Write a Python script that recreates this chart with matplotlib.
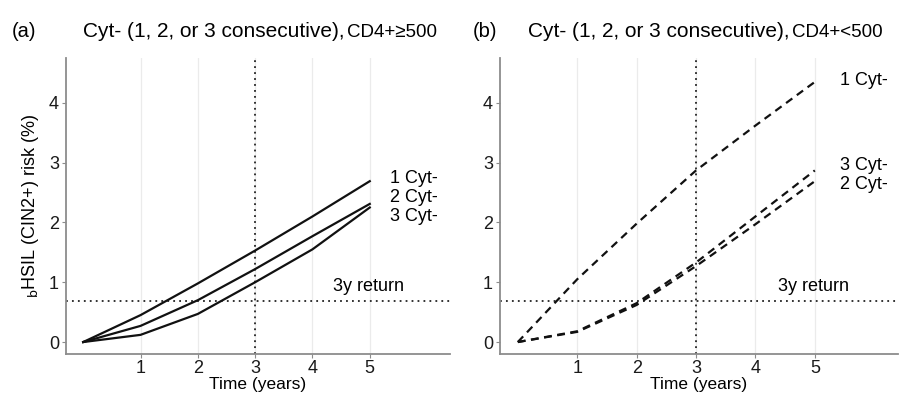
import matplotlib
matplotlib.use("Agg")
import matplotlib.pyplot as plt

plt.rcParams['font.family'] = ['Liberation Sans', 'DejaVu Sans']

years = [0, 1, 2, 3, 4, 5]
# Panel (a): CD4+ >= 500
a_1cyt = [0, 0.45, 0.98, 1.53, 2.10, 2.69]
a_2cyt = [0, 0.27, 0.70, 1.22, 1.77, 2.31]
a_3cyt = [0, 0.12, 0.47, 1.00, 1.55, 2.25]
# Panel (b): CD4+ < 500
b_1cyt = [0, 1.05, 1.98, 2.87, 3.62, 4.35]
b_2cyt = [0, 0.17, 0.62, 1.27, 1.97, 2.69]
b_3cyt = [0, 0.18, 0.65, 1.33, 2.10, 2.87]

return_threshold = 0.69
return_year = 3
xticks = [1, 2, 3, 4, 5]
yticks = [0, 1, 2, 3, 4]

fig = plt.figure(figsize=(9.02, 3.94), dpi=100)
axA = fig.add_axes([66/902, 40/394, 384/902, 296/394])
axB = fig.add_axes([500/902, 40/394, 398/902, 296/394])

gray = '#8c8c8c'
fs = 13

def style(ax):
    ax.set_xlim(-0.3, 6.4)
    ax.set_ylim(-0.2, 4.75)
    for s in ['top', 'right']:
        ax.spines[s].set_visible(False)
    for s in ['left', 'bottom']:
        ax.spines[s].set_color(gray)
        ax.spines[s].set_linewidth(1.3)
    ax.set_xticks(xticks)
    ax.set_yticks(yticks)
    ax.tick_params(axis='both', colors=gray, labelcolor='#1a1a1a',
                   labelsize=fs, length=3, width=0.8, pad=2)
    ax.tick_params(axis='x', pad=1)
    ax.grid(axis='x', color='#ebebeb', linewidth=0.9)
    ax.set_axisbelow(True)
    ax.axhline(return_threshold, color='#222222', linestyle=(0, (1, 2.3)), linewidth=1.3)
    ax.axvline(return_year, color='#222222', linestyle=(0, (1, 2.3)), linewidth=1.3)
    ax.set_xlabel('Time (years)', fontsize=12.5, labelpad=0)

style(axA)
style(axB)

# Panel a
for ys in (a_1cyt, a_2cyt, a_3cyt):
    axA.plot(years, ys, color='#111111', linewidth=1.6, solid_joinstyle='miter')
axA.text(5.35, a_1cyt[-1] + 0.04, '1 Cyt-', fontsize=fs, va='center', ha='left')
axA.text(5.35, a_2cyt[-1] + 0.1, '2 Cyt-', fontsize=fs, va='center', ha='left')
axA.text(5.35, a_3cyt[-1] - 0.15, '3 Cyt-', fontsize=fs, va='center', ha='left')
axA.text(4.97, return_threshold + 0.1, '3y return', fontsize=fs, va='bottom', ha='center')
axA.set_ylabel(r'$_{\mathrm{b}}$HSIL (CIN2+) risk (%)', fontsize=fs, labelpad=6)

# Panel b
dash = (0, (3.5, 2.5))
for ys in (b_1cyt, b_2cyt, b_3cyt):
    axB.plot(years, ys, color='#111111', linewidth=1.6, linestyle=dash)
axB.text(5.42, b_1cyt[-1] + 0.03, '1 Cyt-', fontsize=fs, va='center', ha='left')
axB.text(5.42, b_3cyt[-1] + 0.08, '3 Cyt-', fontsize=fs, va='center', ha='left')
axB.text(5.42, b_2cyt[-1] - 0.06, '2 Cyt-', fontsize=fs, va='center', ha='left')
axB.text(4.98, return_threshold + 0.1, '3y return', fontsize=fs, va='bottom', ha='center')

# Titles
ty = 1 - 37/394
fig.text(12/902, ty, '(a)', fontsize=14.5, va='baseline', ha='left')
fig.text(83/902, ty, 'Cyt- (1, 2, or 3 consecutive),', fontsize=15, va='baseline', ha='left')
fig.text(347/902, ty, 'CD4+\u2265500', fontsize=13.5, va='baseline', ha='left')
fig.text(473/902, ty, '(b)', fontsize=14.5, va='baseline', ha='left')
fig.text(528/902, ty, 'Cyt- (1, 2, or 3 consecutive),', fontsize=15, va='baseline', ha='left')
fig.text(792/902, ty, 'CD4+<500', fontsize=13.5, va='baseline', ha='left')

fig.savefig('out.png', dpi=100)
